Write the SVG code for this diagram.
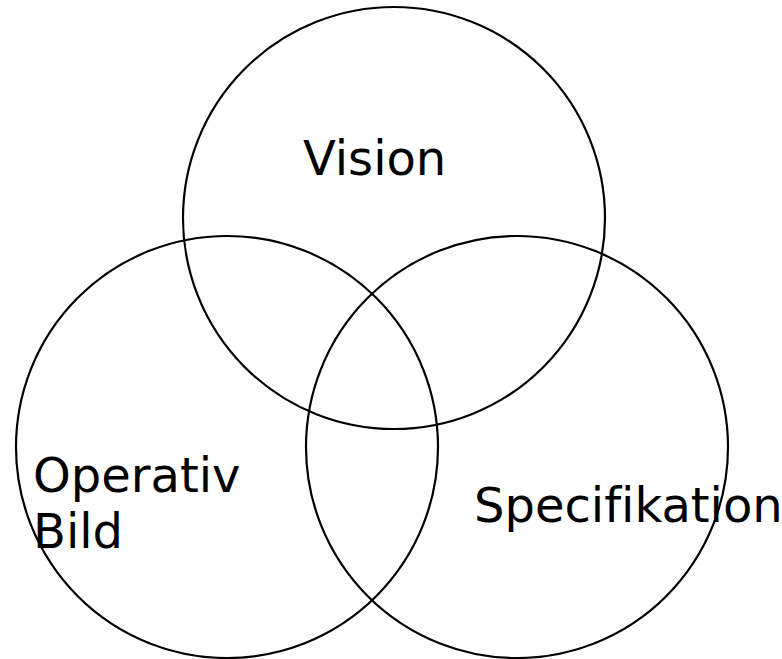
<svg xmlns="http://www.w3.org/2000/svg" width="782" height="659" viewBox="0 0 782 659">
  <style>
    .ring { fill: none; stroke: #000; stroke-width: 2.2; }
    .label { font-family: "DejaVu Sans", Verdana, sans-serif; font-size: 48px; fill: #000; font-variant-ligatures: none; font-feature-settings: "liga" 0; }
  </style>
  <rect width="782" height="659" fill="#fff"/>
  <g id="vision">
    <circle class="ring" cx="394" cy="218" r="211"/>
    <text class="label" x="303" y="175">Vision</text>
  </g>
  <g id="operativ-bild">
    <circle class="ring" cx="227" cy="447" r="211"/>
    <text class="label" x="33" y="492">Operativ</text>
    <text class="label" x="33" y="548">Bild</text>
  </g>
  <g id="specifikation">
    <circle class="ring" cx="517" cy="447" r="211"/>
    <text class="label" x="474" y="522">Specifikation</text>
  </g>
</svg>
